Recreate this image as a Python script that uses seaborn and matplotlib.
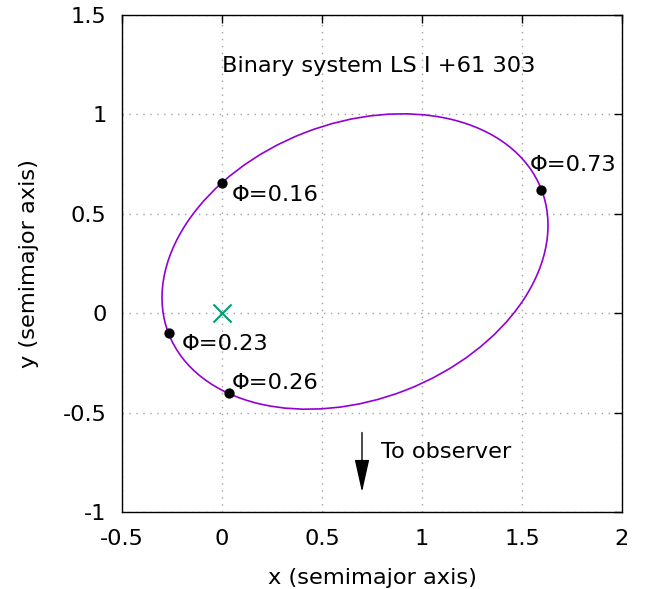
import numpy as np
import pandas as pd
import matplotlib
matplotlib.use("Agg")
import matplotlib.pyplot as plt
from matplotlib.patches import Ellipse
import seaborn as sns

# Orbit (ellipse) parameters
orbit_center = (0.665, 0.26)
orbit_width = 2.0      # 2 * semimajor axis
orbit_height = 1.39    # 2 * semiminor axis
orbit_angle = 21.4     # degrees

# Phase points
phase_labels = ["Φ=0.16", "Φ=0.73", "Φ=0.23", "Φ=0.26"]
phase_x = [0.0, 1.595, -0.265, 0.035]
phase_y = [0.655, 0.62, -0.10, -0.40]
label_offsets = [(7, -9), (-8, 18), (9, -8), (2, 7)]  # points

# Star (focus)
star_x = [0.0]
star_y = [0.0]

xticks = [-0.5, 0, 0.5, 1, 1.5, 2]
yticks = [-1, -0.5, 0, 0.5, 1, 1.5]
xtick_labels = ["-0.5", "0", "0.5", "1", "1.5", "2"]
ytick_labels = ["-1", "-0.5", "0", "0.5", "1", "1.5"]

sns.set_theme(style="white")
plt.rcParams['font.family'] = ['DejaVu Sans']

fig = plt.figure(figsize=(6.49, 5.89), dpi=100)
ax = fig.add_axes([122/649, 1 - 512/589, 500/649, 497/589])

FS = 16.2

ax.add_patch(Ellipse(orbit_center, orbit_width, orbit_height, angle=orbit_angle,
                     fill=False, edgecolor="#9400d3", linewidth=1.2, zorder=3))

df = pd.DataFrame({"x": phase_x, "y": phase_y, "label": phase_labels})
sns.scatterplot(data=df, x="x", y="y", ax=ax, color="black", s=55,
                edgecolor="black", linewidth=0, zorder=4)
for lab, x, y, off in zip(phase_labels, phase_x, phase_y, label_offsets):
    ax.annotate(lab, (x, y), xytext=off, textcoords="offset points",
                ha="left", va="center", fontsize=FS, color="black", zorder=5)

sns.scatterplot(x=star_x, y=star_y, ax=ax, marker="x", s=170, color="#009e73",
                linewidth=1.5, zorder=4)

ax.text(0.0, 1.245, "Binary system LS I +61 303", ha="left", va="center",
        fontsize=FS, color="black")

ax.annotate("", xy=(0.7, -0.9), xytext=(0.7, -0.6),
            arrowprops=dict(arrowstyle="-|>,head_width=0.38,head_length=1.7",
                            color="black", lw=1.0, shrinkA=0, shrinkB=0))
ax.text(0.795, -0.7, "To observer", ha="left", va="center", fontsize=FS,
        color="black")

ax.set_xlim(-0.5, 2)
ax.set_ylim(-1, 1.5)
ax.set_xticks(xticks)
ax.set_xticklabels(xtick_labels)
ax.set_yticks(yticks)
ax.set_yticklabels(ytick_labels)
ax.tick_params(direction="in", length=6, width=1, top=True, right=True,
               labelsize=FS, colors="black")
ax.tick_params(axis="y", pad=11)
ax.tick_params(axis="x", pad=12)
ax.grid(True, linestyle=(0, (1, 4)), color="#a0a0a0", linewidth=1.0)
for sp in ax.spines.values():
    sp.set_color("black")
    sp.set_linewidth(1.0)
ax.set_xlabel("x (semimajor axis)", fontsize=FS, labelpad=14, color="black")
ax.set_ylabel("y (semimajor axis)", fontsize=FS, labelpad=17, color="black")

fig.savefig("out.png", dpi=100)
